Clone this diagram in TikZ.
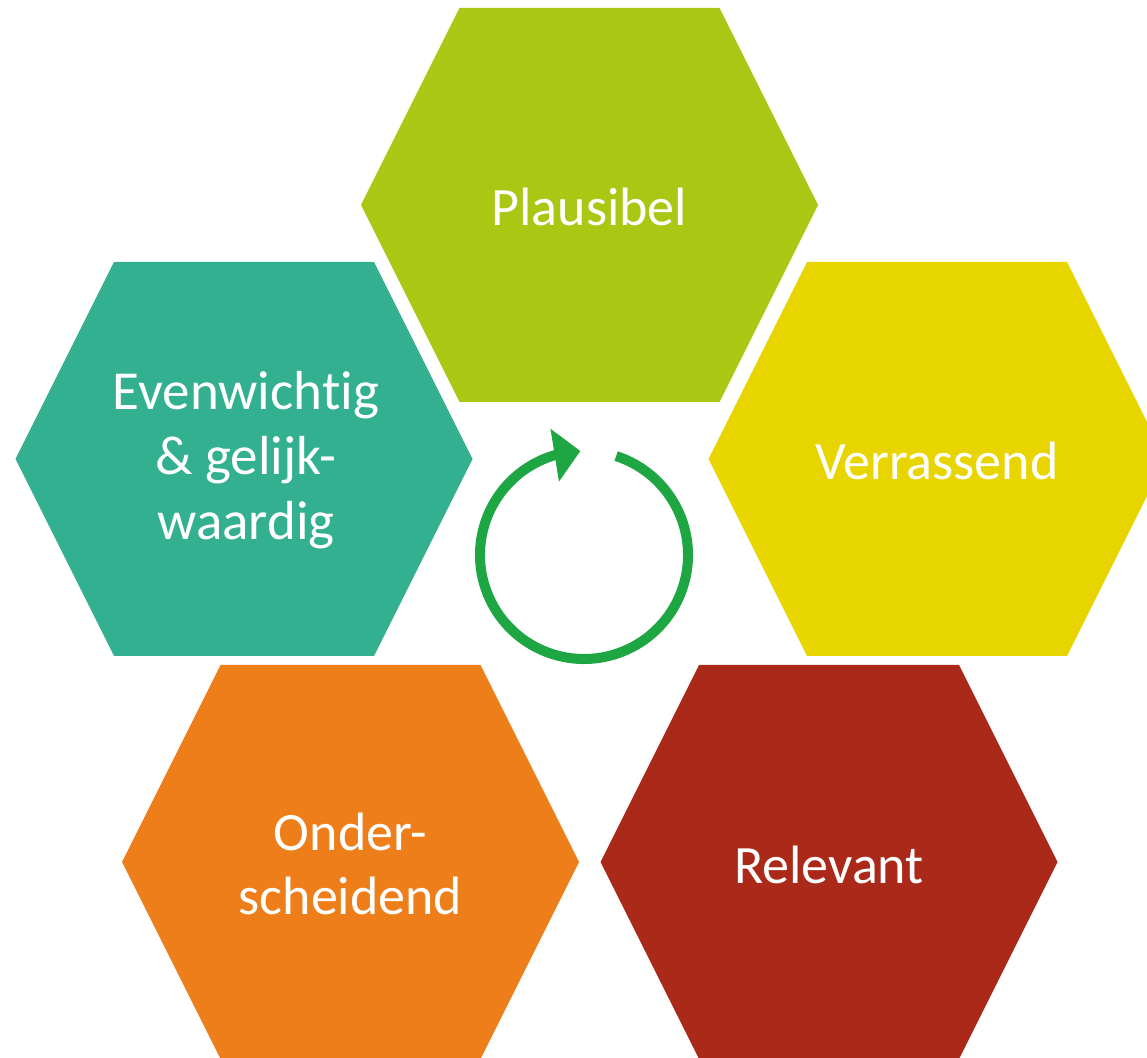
\documentclass[tikz,border=0pt]{standalone}
\usepackage{fontspec}
\setmainfont[Ligatures=NoCommon]{Carlito}
\usetikzlibrary{arrows.meta, bending}
\definecolor{plausgreen}{RGB}{169,199,19}
\definecolor{verryellow}{RGB}{232,213,0}
\definecolor{eventeal}{RGB}{51,176,144}
\definecolor{onderorange}{RGB}{238,126,26}
\definecolor{relred}{RGB}{171,41,25}
\definecolor{cyclegreen}{RGB}{29,166,65}

\begin{document}
\begin{tikzpicture}[x=0.5pt, y=-0.5pt,
    hexa/.pic={\fill (-228.5,0) -- (-130,-197) -- (130,-197) -- (228.5,0) -- (130,197) -- (-130,197) -- cycle;},
    lbl/.style={text=white, align=center, font=\fontsize{27}{32}\selectfont},
    cycarrow/.style={draw=cyclegreen, line width=5pt, -{Triangle[length=13pt, width=26pt, flex]}}]
  \useasboundingbox (0,0) rectangle (1147,1058);
  \clip (0,0) rectangle (1147,1058);
  % hexagons
  \pic[fill=plausgreen] at (589.5,205) {hexa};
  \pic[fill=eventeal] at (244,459) {hexa};
  \pic[fill=verryellow] at (937,459) {hexa};
  \pic[fill=onderorange] at (350.5,862) {hexa};
  \pic[fill=relred] at (829,862) {hexa};
  % labels
  \node[lbl, font=\fontsize{27.5}{32.5}\selectfont] (even) at (246,460) {Evenwichtig\\ \& gelijk-\\ waardig};
  \node[lbl] (plaus) at (589.5,207) {Plausibel};
  \node[lbl] (verr) at (937,461) {Verrassend};
  \node[lbl] (onder) at (350.5,864) {Onder-\\ scheidend};
  \node[lbl] (rel) at (829,865) {Relevant};
  % cycle arrow
  \coordinate (mid) at (584,555);
  \draw[cycarrow] (mid) ++(-72:104) arc[start angle=-72, end angle=268, radius=104];
\end{tikzpicture}
\end{document}
